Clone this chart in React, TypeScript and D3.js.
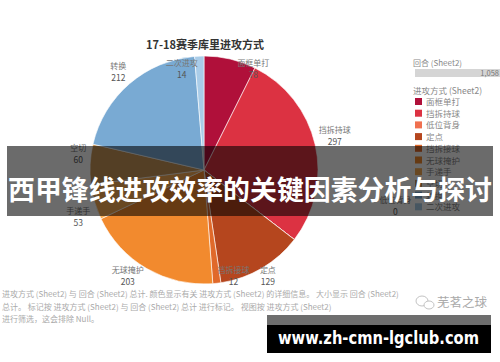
import React from "react";
import * as d3 from "d3";

const categories = ["面框单打", "挡拆持球", "低位背身", "定点", "挡拆接球", "无球掩护", "手递手", "空切", "转换", "二次进攻"];
const possessions = [78, 297, 0, 129, 12, 203, 53, 60, 212, 14];
const colors = ["#b0103a", "#dc3242", "#f0704f", "#b5461e", "#e0692a", "#f28a2e", "#f7ad55", "#c9975a", "#79aad3", "#a9cce8"];
const titleText = "17-18赛季库里进攻方式";
const sizeLegendTitle = "回合 (Sheet2)";
const colorLegendTitle = "进攻方式 (Sheet2)";
const footerLines = [
  "进攻方式 (Sheet2) 与 回合 (Sheet2) 总计. 颜色显示有关 进攻方式 (Sheet2) 的详细信息。 大小显示 回合 (Sheet2)",
  "总计。 标记按 进攻方式 (Sheet2) 与 回合 (Sheet2) 总计 进行标记。 视图按 进攻方式 (Sheet2)",
  "进行筛选，这会排除 Null。",
];
const bannerText = "西甲锋线进攻效率的关键因素分析与探讨";
const siteText = "www.zh-cmn-lgclub.com";
const watermarkText = "芜茗之球";

// layout-only label nudges (px) relative to computed label anchor
const labelNudge: Record<string, [number, number]> = {
  "面框单打": [20, 24],
  "挡拆持球": [6, -5],
  "低位背身": [90, -42],
  "定点": [-1, -4],
  "挡拆接球": [15, -21],
  "无球掩护": [-12, -5],
  "手递手": [-3, 11],
  "空切": [2, -10],
  "转换": [-2, -1],
  "二次进攻": [-17, 27],
};

const W = 500, H = 362;
const CX = 204, CY = 170, R = 114;
const FONT = "'Noto Sans CJK SC', 'Noto Sans', sans-serif";

export default function App() {
  const data = categories.map((c, i) => ({ name: c, value: possessions[i], color: colors[i] }));
  const pie = d3.pie<any>().sort(null).value((d) => d.value).startAngle(0).endAngle(2 * Math.PI);
  const arcs = pie(data);
  const arc = d3.arc<any>().innerRadius(0).outerRadius(R);
  const labelArc = d3.arc<any>().innerRadius(128).outerRadius(128);
  const total = d3.sum(possessions);
  const sizeScale = d3.scaleLinear().domain([0, total]).range([0, 85]);
  const fmt = d3.format(",");

  const legendY = (i: number) => 102 + i * 11.7;

  return (
    <svg width={W} height={H} style={{ position: "absolute", left: 0, top: 0, background: "#fff" }} fontFamily={FONT}>
      <rect x={0} y={0} width={W} height={H} fill="#fff" />
      <text x={205} y={49} textAnchor="middle" fontSize={11} fontWeight="bold" fill="#333">{titleText}</text>
      <g transform={`translate(${CX},${CY})`}>
        {arcs.map((a, i) => (
          <path key={i} d={arc(a) || ""} fill={a.data.color} stroke="#fff" strokeWidth={0.6} />
        ))}
      </g>
      {arcs.map((a, i) => {
        const [lx, ly] = labelArc.centroid(a);
        const [nx, ny] = labelNudge[a.data.name] || [0, 0];
        const x = CX + lx + nx, y = CY + ly + ny;
        return (
          <g key={i}>
            <text x={x} y={y - 3} textAnchor="middle" fontSize={8} fill="#777">{a.data.name}</text>
            <text x={x} y={y + 9} textAnchor="middle" fontSize={8.5} fill="#555">{fmt(a.data.value)}</text>
          </g>
        );
      })}
      {/* legend */}
      <text x={413} y={66} fontSize={8} fill="#888">{sizeLegendTitle}</text>
      <rect x={415} y={69} width={sizeScale(total)} height={8} fill="#d5d5d5" />
      <text x={499} y={76} textAnchor="end" fontSize={7.5} fill="#777">{fmt(total)}</text>
      <text x={413} y={94} fontSize={8.5} fill="#888">{colorLegendTitle}</text>
      {categories.map((c, i) => (
        <g key={c}>
          <rect x={415} y={legendY(i) - 4} width={7} height={7} fill={colors[i]} />
          <text x={426} y={legendY(i) + 3} fontSize={8.5} fill="#888">{c}</text>
        </g>
      ))}
      {/* footer */}
      {footerLines.map((t, i) => (
        <text key={i} x={2} y={297 + i * 12.5} fontSize={8} fill="#aaa">{t}</text>
      ))}
      {/* watermark */}
      <g stroke="#bbb" fill="none" strokeWidth={0.9}>
        <ellipse cx={422} cy={301} rx={6} ry={5} />
        <ellipse cx={429} cy={305} rx={5} ry={4} fill="#fff" />
      </g>
      <text x={437} y={307} fontSize={12.5} fill="#aaa">{watermarkText}</text>
      {/* banner */}
      <rect x={7} y={146} width={486} height={70} fill="#000" fillOpacity={0.58} />
      <text x={250} y={200} textAnchor="middle" fontSize={27} fontWeight="bold" fill="#fff" textLength={484} lengthAdjust="spacingAndGlyphs">{bannerText}</text>
      {/* site */}
      <rect x={267} y={315} width={224} height={10} fill="#6e6e6e" />
      <rect x={267} y={325} width={224} height={28} fill="#000" />
      <text x={278} y={344} fontSize={18} fontWeight="bold" fill="#fff" fontFamily="'DejaVu Sans', sans-serif" textLength={201} lengthAdjust="spacingAndGlyphs">{siteText}</text>
    </svg>
  );
}
